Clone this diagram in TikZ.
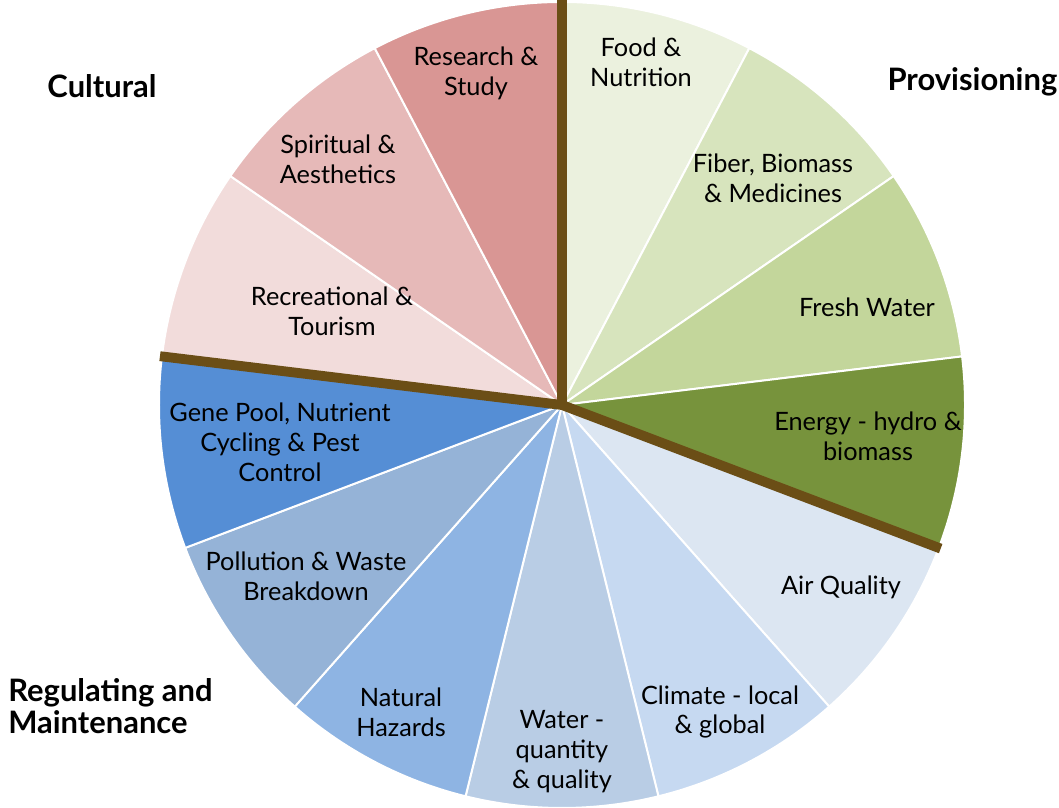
\documentclass[tikz,border=0pt]{standalone}
\usepackage{fontspec}
\setmainfont{Lato}
\definecolor{food}{HTML}{EBF1DE}
\definecolor{fiber}{HTML}{D7E4BD}
\definecolor{freshw}{HTML}{C3D69B}
\definecolor{energy}{HTML}{77933C}
\definecolor{airq}{HTML}{DCE6F2}
\definecolor{climate}{HTML}{C6D9F1}
\definecolor{waterq}{HTML}{B9CDE5}
\definecolor{hazard}{HTML}{8EB4E3}
\definecolor{pollut}{HTML}{95B3D7}
\definecolor{genep}{HTML}{558ED5}
\definecolor{recrea}{HTML}{F2DCDB}
\definecolor{spirit}{HTML}{E6B9B8}
\definecolor{resear}{HTML}{D99694}
\definecolor{divider}{HTML}{6B4E16}
\tikzset{
  slice/.style={draw=white, line width=1.4pt, line join=round},
  groupline/.style={draw=divider, line width=7pt},
  lbl/.style={align=center, font=\fontsize{18}{21.3}\selectfont},
  grp/.style={align=left, font=\fontsize{22}{22.7}\selectfont\bfseries}
}
\begin{document}
\begin{tikzpicture}[x=0.025cm, y=0.025cm]
    \useasboundingbox (0,0) rectangle (1059,808);
    % pie, clockwise from the top
    \begin{scope}[shift={(562,403)}]
    \draw[slice, fill=food]   (0,0) -- (62.3077:403) arc[start angle=62.3077, end angle=90, radius=403] -- cycle;
    \draw[slice, fill=fiber]  (0,0) -- (34.6154:403) arc[start angle=34.6154, end angle=62.3077, radius=403] -- cycle;
    \draw[slice, fill=freshw] (0,0) -- (6.9231:403) arc[start angle=6.9231, end angle=34.6154, radius=403] -- cycle;
    \draw[slice, fill=energy] (0,0) -- (-20.7692:403) arc[start angle=-20.7692, end angle=6.9231, radius=403] -- cycle;
    \draw[slice, fill=airq]   (0,0) -- (-48.4615:403) arc[start angle=-48.4615, end angle=-20.7692, radius=403] -- cycle;
    \draw[slice, fill=climate] (0,0) -- (-76.1538:403) arc[start angle=-76.1538, end angle=-48.4615, radius=403] -- cycle;
    \draw[slice, fill=waterq] (0,0) -- (-103.8462:403) arc[start angle=-103.8462, end angle=-76.1538, radius=403] -- cycle;
    \draw[slice, fill=hazard] (0,0) -- (-131.5385:403) arc[start angle=-131.5385, end angle=-103.8462, radius=403] -- cycle;
    \draw[slice, fill=pollut] (0,0) -- (-159.2308:403) arc[start angle=-159.2308, end angle=-131.5385, radius=403] -- cycle;
    \draw[slice, fill=genep]  (0,0) -- (-186.9231:403) arc[start angle=-186.9231, end angle=-159.2308, radius=403] -- cycle;
    \draw[slice, fill=recrea] (0,0) -- (-214.6154:403) arc[start angle=-214.6154, end angle=-186.9231, radius=403] -- cycle;
    \draw[slice, fill=spirit] (0,0) -- (-242.3077:403) arc[start angle=-242.3077, end angle=-214.6154, radius=403] -- cycle;
    \draw[slice, fill=resear] (0,0) -- (-270:403) arc[start angle=-270, end angle=-242.3077, radius=403] -- cycle;
    % group dividers
    \draw[groupline] (0,0) -- (90:405);
    \draw[groupline] (0,0) -- (-20.7692:405);
    \draw[groupline] (0,0) -- (173.0769:405);
    \end{scope}
    % slice labels
    \node[lbl] (food)    at (641,746) {Food \&\\Nutrition};
    \node[lbl] (fiber)   at (773,630) {Fiber, Biomass\\\& Medicines};
    \node[lbl] (freshw)  at (867,501) {Fresh Water};
    \node[lbl] (energy)  at (868,372) {Energy - hydro \&\\biomass};
    \node[lbl] (airq)    at (841,221) {Air Quality};
    \node[lbl] (climate) at (720,96)  {Climate - local\\\& global};
    \node[lbl] (waterq)  at (562,56)  {Water -\\quantity\\\& quality};
    \node[lbl] (hazard)  at (401,96)  {Natural\\Hazards};
    \node[lbl] (pollut)  at (306,232) {Pollution \& Waste\\Breakdown};
    \node[lbl] (genep)   at (280,366) {Gene Pool, Nutrient\\Cycling \& Pest\\Control};
    \node[lbl] (recrea)  at (332,497) {Recreational \&\\Tourism};
    \node[lbl] (spirit)  at (338,649) {Spiritual \&\\Aesthetics};
    \node[lbl] (resear)  at (476,735) {Research \&\\Study};
    % group labels
    \node[grp] (cultural) at (102,722) {Cultural};
    \node[grp, anchor=east, inner sep=1pt] (provis) at (1059,726) {Provisioning};
    \node[grp, anchor=west, inner sep=0pt] (regul) at (8,102) {Regulating and\\Maintenance};
\end{tikzpicture}
\end{document}
